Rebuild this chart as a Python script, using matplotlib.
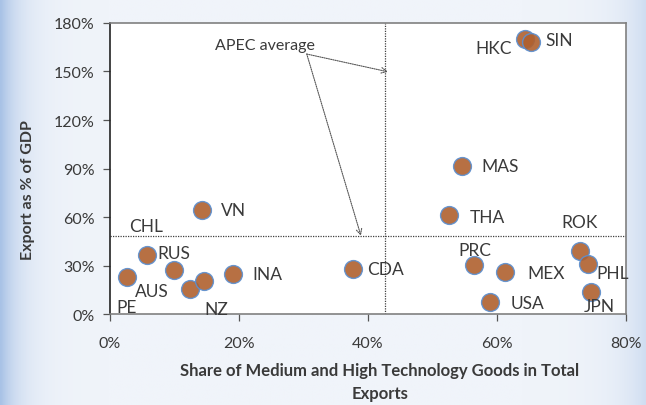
import matplotlib.pyplot as plt
import numpy as np
from matplotlib.colors import LinearSegmentedColormap
from matplotlib.ticker import FuncFormatter

plt.rcParams['font.family'] = ['Lato', 'DejaVu Sans']

# economies, tech share of exports (%), exports as % of GDP
names = ['PE', 'CHL', 'RUS', 'AUS', 'NZ', 'INA', 'VN', 'CDA', 'MAS', 'THA',
         'PRC', 'MEX', 'USA', 'ROK', 'PHL', 'JPN', 'HKC', 'SIN']
tech_share = [2.6, 5.8, 9.9, 12.4, 14.5, 19.0, 14.2, 37.6, 54.5, 52.6,
              56.5, 61.3, 58.9, 72.8, 74.1, 74.6, 64.3, 65.3]
export_gdp = [23.1, 36.5, 27.4, 15.3, 20.4, 24.9, 64.5, 27.8, 91.3, 61.2,
              30.1, 25.8, 7.2, 39.0, 30.7, 13.4, 170.1, 168.4]
# label offsets in pixels (dx right, dy up)
label_dx = [0, -1, 0, -38, 13, 35, 32, 33, 39, 38, 0, 41, 38, 0, 25, 8, -31, 28]
label_dy = [-30, 29, 17, -2, -28, 0, 0, 0, 0, -2, 15, -1, -1, 29, -9, -14, -9, 2]

apec_x = 42.7
apec_y = 48.4

xticks = [0, 20, 40, 60, 80]
yticks = [0, 30, 60, 90, 120, 150, 180]

fig = plt.figure(figsize=(6.46, 4.06), dpi=100)
fig.patch.set_facecolor('#F0F4FA')

# soft blue backdrop like the slide
bg = fig.add_axes([0, 0, 1, 1], zorder=-10)
gx = np.linspace(0, 1, 400)
grad = np.exp(-gx / 0.03) + 0.45 * np.exp(-(1 - gx) / 0.04)
slide = LinearSegmentedColormap.from_list('slide', ['#F0F4FA', '#A8C2E6'])
bg.imshow(np.tile(grad, (10, 1)), aspect='auto', cmap=slide, vmin=0, vmax=1,
          extent=[0, 1, 0, 1])
bg.axis('off')

ax = fig.add_axes([0.1703, 0.2241, 0.7988, 0.7168])
ax.set_facecolor('white')

ax.scatter(tech_share, export_gdp, s=165, color='#B0602E', edgecolors='#5B8FD0',
           linewidths=1.0, alpha=0.9, zorder=3)

for n, x, y, dx, dy in zip(names, tech_share, export_gdp, label_dx, label_dy):
    ax.annotate(n, (x, y), xytext=(dx, dy), textcoords='offset pixels',
                ha='center', va='center', fontsize=12.5, color='#3A3A3A', zorder=4)

ax.axvline(apec_x, color='#404040', lw=0.9, ls=(0, (1, 1)), zorder=1)
ax.axhline(apec_y, color='#404040', lw=0.9, ls=(0, (1, 1)), zorder=1)

ax.text(24.0, 166.4, 'APEC average', ha='center', va='center', fontsize=11.5, color='#3A3A3A')
arrow = dict(arrowstyle='->', color='#555555', lw=0.8, ls=(0, (1, 1)), shrinkA=0, shrinkB=0)
ax.annotate('', xy=(43.1, 149.8), xytext=(30.5, 160.8), arrowprops=arrow)
ax.annotate('', xy=(38.9, apec_y), xytext=(30.5, 160.8), arrowprops=arrow)

ax.set_xlim(0, 80)
ax.set_ylim(0, 180)
ax.set_xticks(xticks)
ax.set_yticks(yticks)
pct = FuncFormatter(lambda v, p: f'{v:.0f}%')
ax.xaxis.set_major_formatter(pct)
ax.yaxis.set_major_formatter(pct)
ax.tick_params(axis='both', labelsize=11.5, labelcolor='#3A3A3A', color='#555555',
               length=5, width=0.9)
ax.tick_params(axis='x', pad=11)
ax.tick_params(axis='y', pad=6)

ax.spines['left'].set_color('#222222')
for s in ['top', 'right', 'bottom']:
    ax.spines[s].set_color('#808080')
for s in ax.spines.values():
    s.set_linewidth(1.2)

fig.text(380 / 646, 1 - 371 / 406, 'Share of Medium and High Technology Goods in Total',
         ha='center', va='center', fontsize=12, fontweight='bold', color='#3A3A3A')
fig.text(380 / 646, 1 - 394 / 406, 'Exports', ha='center', va='center',
         fontsize=12, fontweight='bold', color='#3A3A3A')
fig.text(28 / 646, 1 - 190 / 406, 'Export as % of GDP', ha='center', va='center',
         rotation=90, fontsize=11.5, fontweight='bold', color='#3A3A3A')

fig.savefig('out.png', dpi=100, facecolor=fig.get_facecolor())
